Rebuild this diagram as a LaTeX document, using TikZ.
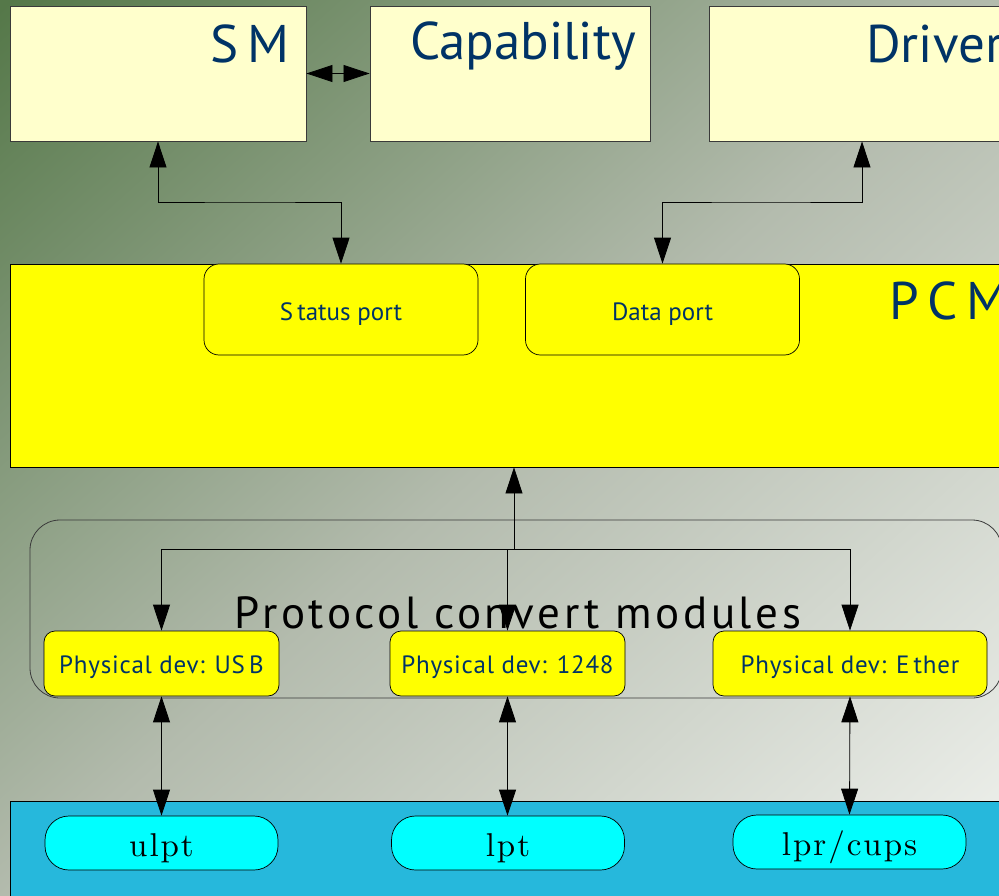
\documentclass[tikz,border=0pt]{standalone}
\usepackage{fontspec}
\newfontfamily\labfont{PT Sans}
\newfontfamily\pillfont{lmroman10-regular.otf}[LetterSpace=6]
\usetikzlibrary{arrows.meta}
\definecolor{bgdark}{HTML}{557849}
\definecolor{bgmid}{HTML}{B3BBAD}
\definecolor{bglight}{HTML}{F0F2EE}
\definecolor{boxfill}{HTML}{FFFFCC}
\definecolor{navy}{HTML}{003366}
\definecolor{edge}{HTML}{3A3A3A}
\definecolor{pcmfill}{HTML}{FFFF00}
\definecolor{bluefill}{HTML}{26B8DC}
\definecolor{cyanfill}{HTML}{00FFFF}
\pgfdeclareverticalshading{bgshade}{100bp}{color(0bp)=(bglight); color(15bp)=(bglight); color(50bp)=(bgmid); color(85bp)=(bgdark); color(100bp)=(bgdark)}
\tikzset{
  tip/.tip={Triangle[length=26pt,width=17pt]},
  bigbox/.style={draw=edge, line width=0.9pt, fill=boxfill, rectangle, minimum height=135pt, inner sep=0pt},
  bigtext/.style={text=navy, font=\labfont\fontsize{53}{60}\selectfont, inner sep=0pt},
  portbox/.style={draw=black, line width=0.7pt, fill=pcmfill, rectangle, rounded corners=15pt, minimum width=274pt, minimum height=91pt, text=navy, text height=22pt, text depth=0pt, font=\labfont\fontsize{25}{30}\selectfont},
  devbox/.style={draw=black, line width=0.7pt, fill=pcmfill, rectangle, rounded corners=11pt, minimum height=65pt, text=navy, text height=19pt, text depth=0pt, font=\labfont\addfontfeature{LetterSpace=3}\fontsize{25}{30}\selectfont},
  pill/.style={draw=black, line width=0.7pt, fill=cyanfill, rectangle, rounded corners=24pt, minimum width=233pt, minimum height=54pt, text height=26pt, text depth=0pt, font=\pillfont\fontsize{33}{38}\selectfont},
  conn/.style={draw=black, line width=0.8pt},
}
\begin{document}
\begin{tikzpicture}[x=1pt,y=-1pt]
\useasboundingbox (0,0) rectangle (999,896);
\clip (0,0) rectangle (999,896);
\shade[shading=bgshade, shading angle=42] (0,0) rectangle (999,896);

% top boxes
\node[bigbox, minimum width=296pt] (sm) at (158,73.5) {};
\node[bigbox, minimum width=280pt] (cap) at (510,73.5) {};
\node[bigbox, minimum width=306pt] (drv) at (862,73.5) {};
\node[bigtext, anchor=north east] (smt) at (290,25) {S\,M};
\node[bigtext, anchor=north east] (capt) at (636,22) {Capability};
\node[bigtext, anchor=north west] (drvt) at (866,25) {Driver};

% PCM
\node[draw=black, line width=0.8pt, fill=pcmfill, rectangle, minimum width=1008pt, minimum height=203pt] (pcm) at (514,365.5) {};
\node[bigtext, anchor=north west] (pcmt) at (889,282) {P\,C\,M};
\node[portbox] (status) at (341,309.5) {S\,tatus port};
\node[portbox] (data) at (662.5,309.5) {Data port};

% protocol convert modules
\node[draw=edge, line width=0.8pt, rectangle, rounded corners=30pt, minimum width=972pt, minimum height=178pt] (proto) at (516,609) {};
\node[font=\labfont\addfontfeature{LetterSpace=8}\fontsize{45}{50}\selectfont, text=black, inner sep=0pt, text height=32pt, text depth=0pt] (protot) at (518,612) {Protocol convert modules};

\node[devbox, minimum width=235pt] (usb) at (161.5,663.5) {Physical dev: US\,B};
\node[devbox, minimum width=235pt] (d1248) at (507.5,663.5) {Physical dev: 1248};
\node[devbox, minimum width=274pt] (ether) at (850,663.5) {Physical dev: E\,ther};

% bottom
\node[draw=black, line width=0.8pt, fill=bluefill, rectangle, minimum width=1000pt, minimum height=105pt] (phys) at (510,853.5) {};
\node[pill] (ulpt) at (161.5,843) {ulpt};
\node[pill] (lpt) at (508,843) {lpt};
\node[pill] (lpr) at (849.5,842) {lpr/cups};

% connectors
\draw[conn, {tip}-{tip}] (sm.east) -- (cap.west);
\coordinate (jl) at (250,202);
\coordinate (jr) at (760,202);
\draw[conn, {tip}-{tip}] (sm.south) |- (jl) -| (status.north);
\draw[conn, {tip}-{tip}] (drv.south) |- (jr) -| (data.north);
\coordinate (bus) at (514,549);
\draw[conn, -{tip}] (bus) -- (pcm.south);
\draw[conn, -{tip}] (bus) -| (usb.north);
\draw[conn, -{tip}] (bus) -| (d1248.north);
\draw[conn, -{tip}] (bus) -| (ether.north);
\draw[conn, {tip}-{tip}] (usb.south) -- (usb.south |- ulpt.north);
\draw[conn, {tip}-{tip}] (d1248.south) -- (d1248.south |- lpt.north);
\draw[conn, {tip}-{tip}] (ether.south) -- (lpr.north);
\end{tikzpicture}
\end{document}
